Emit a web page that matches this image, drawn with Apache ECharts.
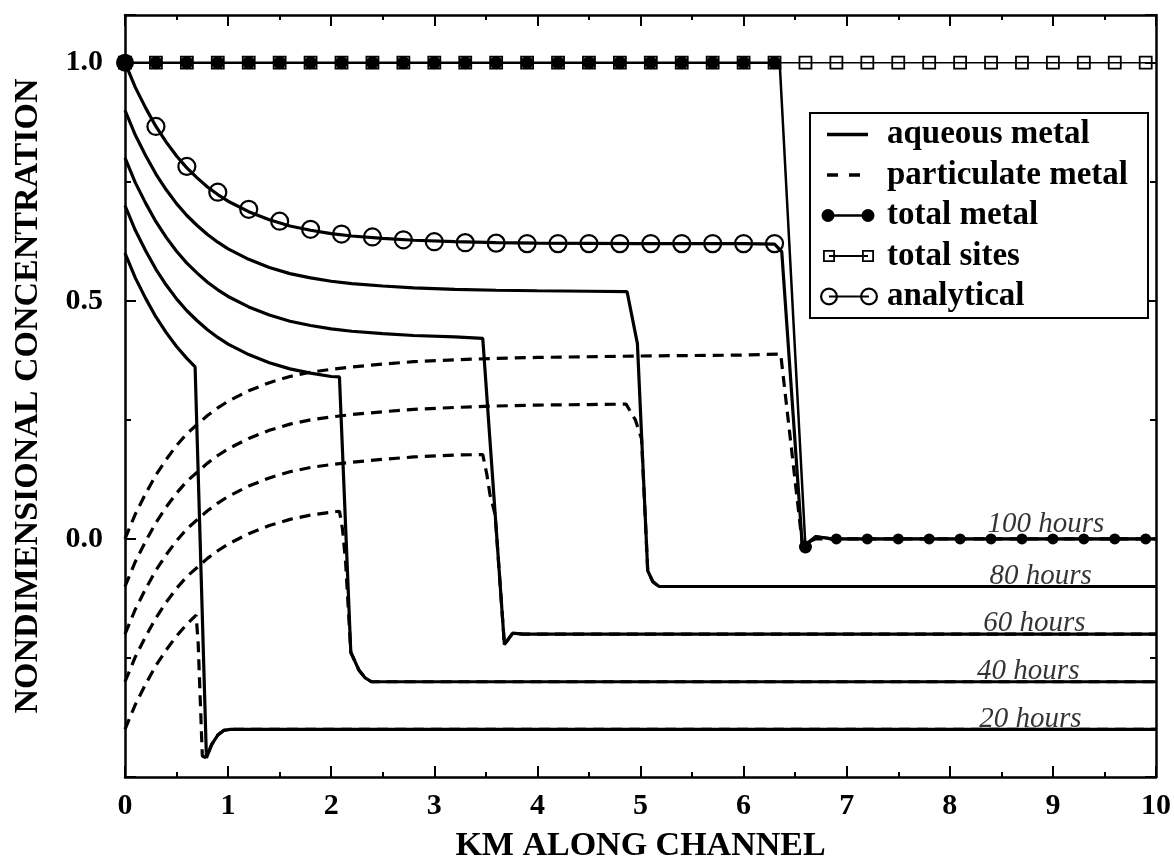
<!DOCTYPE html>
<html>
<head>
<meta charset="utf-8">
<script src="https://cdn.jsdelivr.net/npm/echarts@6/dist/echarts.min.js"></script>
<style>
html,body{margin:0;padding:0;background:#fff;}
#c{width:1174px;height:868px;}
</style>
</head>
<body>
<div id="c"></div>
<script>
// ---------------- data ----------------
const xLabel = 'KM ALONG CHANNEL';
const yLabel = 'NONDIMENSIONAL CONCENTRATION';
const yTickLabels = ['0.0', '0.5', '1.0'];

const aqueous100 = [[0,1.000],[0.1,0.948],[0.2,0.905],[0.3,0.866],[0.4,0.833],[0.5,0.804],[0.6,0.779],[0.7,0.758],[0.8,0.739],[0.9,0.723],[1.0,0.709],[1.2,0.687],[1.4,0.670],[1.6,0.657],[1.8,0.648],[2.0,0.641],[2.2,0.636],[2.5,0.631],[2.8,0.627],[3.2,0.624],[3.6,0.622],[4.0,0.621],[5.0,0.620],[6.0,0.620],[6.3,0.619],[6.37,0.603],[6.57,-0.017],[6.7,0.005],[6.85,0.0],[10,0.0]];
const aqueous80 = [[0,0.900],[0.1,0.848],[0.2,0.805],[0.3,0.766],[0.4,0.733],[0.5,0.704],[0.6,0.679],[0.7,0.658],[0.8,0.639],[0.9,0.623],[1.0,0.609],[1.2,0.587],[1.4,0.570],[1.6,0.557],[1.8,0.548],[2.0,0.541],[2.2,0.536],[2.5,0.531],[2.8,0.527],[3.2,0.524],[3.6,0.522],[4.0,0.521],[4.5,0.520],[4.87,0.519],[4.97,0.410],[5.07,-0.067],[5.12,-0.090],[5.18,-0.100],[5.3,-0.100],[10,-0.100]];
const aqueous60 = [[0,0.800],[0.1,0.748],[0.2,0.705],[0.3,0.666],[0.4,0.633],[0.5,0.604],[0.6,0.579],[0.7,0.558],[0.8,0.539],[0.9,0.523],[1.0,0.509],[1.2,0.487],[1.4,0.470],[1.6,0.457],[1.8,0.448],[2.0,0.441],[2.2,0.436],[2.5,0.431],[2.8,0.427],[3.2,0.424],[3.47,0.421],[3.68,-0.222],[3.76,-0.198],[3.86,-0.200],[10,-0.200]];
const aqueous40 = [[0,0.700],[0.1,0.648],[0.2,0.605],[0.3,0.566],[0.4,0.533],[0.5,0.504],[0.6,0.479],[0.7,0.458],[0.8,0.439],[0.9,0.423],[1.0,0.409],[1.2,0.387],[1.4,0.370],[1.6,0.357],[1.8,0.348],[2.0,0.341],[2.08,0.340],[2.19,-0.238],[2.27,-0.276],[2.33,-0.292],[2.39,-0.300],[10,-0.300]];
const aqueous20 = [[0,0.600],[0.1,0.548],[0.2,0.505],[0.3,0.466],[0.4,0.433],[0.5,0.404],[0.6,0.379],[0.68,0.361],[0.79,-0.460],[0.84,-0.432],[0.9,-0.412],[0.96,-0.402],[1.02,-0.400],[10,-0.400]];

const particulate100 = [[0,0.000],[0.1,0.052],[0.2,0.095],[0.3,0.134],[0.4,0.167],[0.5,0.196],[0.6,0.221],[0.7,0.240],[0.8,0.259],[0.9,0.275],[1.0,0.289],[1.2,0.311],[1.4,0.328],[1.6,0.341],[1.8,0.350],[2.0,0.356],[2.2,0.361],[2.5,0.367],[2.8,0.372],[3.2,0.376],[3.6,0.379],[4.0,0.381],[5.0,0.384],[6.0,0.386],[6.36,0.388],[6.57,-0.012],[6.7,0.0],[10,0.0]];
const particulate80 = [[0,-0.100],[0.1,-0.048],[0.2,-0.005],[0.3,0.034],[0.4,0.067],[0.5,0.096],[0.6,0.121],[0.7,0.140],[0.8,0.159],[0.9,0.175],[1.0,0.189],[1.2,0.211],[1.4,0.228],[1.6,0.241],[1.8,0.250],[2.0,0.256],[2.2,0.261],[2.5,0.267],[2.8,0.272],[3.2,0.276],[3.6,0.279],[4.0,0.281],[4.5,0.282],[4.86,0.283],[4.95,0.250],[5.01,0.210],[5.07,-0.067],[5.12,-0.090],[5.18,-0.100],[10,-0.100]];
const particulate60 = [[0,-0.200],[0.1,-0.148],[0.2,-0.105],[0.3,-0.066],[0.4,-0.033],[0.5,-0.004],[0.6,0.021],[0.7,0.040],[0.8,0.059],[0.9,0.075],[1.0,0.089],[1.2,0.111],[1.4,0.128],[1.6,0.141],[1.8,0.150],[2.0,0.156],[2.2,0.161],[2.5,0.167],[2.8,0.172],[3.2,0.176],[3.47,0.177],[3.51,0.135],[3.54,0.093],[3.59,0.051],[3.68,-0.222],[3.76,-0.198],[3.86,-0.200],[10,-0.200]];
const particulate40 = [[0,-0.300],[0.1,-0.248],[0.2,-0.205],[0.3,-0.166],[0.4,-0.133],[0.5,-0.104],[0.6,-0.079],[0.7,-0.060],[0.8,-0.041],[0.9,-0.025],[1.0,-0.011],[1.2,0.011],[1.4,0.028],[1.6,0.041],[1.8,0.050],[2.0,0.056],[2.08,0.058],[2.11,0.020],[2.14,-0.050],[2.19,-0.238],[2.27,-0.276],[2.33,-0.292],[2.39,-0.300],[10,-0.300]];
const particulate20 = [[0,-0.400],[0.1,-0.348],[0.2,-0.305],[0.3,-0.266],[0.4,-0.233],[0.5,-0.204],[0.6,-0.179],[0.69,-0.160],[0.71,-0.220],[0.75,-0.456],[0.79,-0.460],[0.84,-0.432],[0.9,-0.412],[0.96,-0.402],[1.02,-0.400],[10,-0.400]];

const totalMetal = [[0,1],[0.3,1],[0.6,1],[0.9,1],[1.2,1],[1.5,1],[1.8,1],[2.1,1],[2.4,1],[2.7,1],[3.0,1],[3.3,1],[3.6,1],[3.9,1],[4.2,1],[4.5,1],[4.8,1],[5.1,1],[5.4,1],[5.7,1],[6.0,1],[6.3,1],[6.35,1],[6.6,-0.017],[6.7,0.005],[6.9,0],[7.2,0],[7.5,0],[7.8,0],[8.1,0],[8.4,0],[8.7,0],[9.0,0],[9.3,0],[9.6,0],[9.9,0],[10,0]];
const totalSites = [[0,1],[0.3,1],[0.6,1],[0.9,1],[1.2,1],[1.5,1],[1.8,1],[2.1,1],[2.4,1],[2.7,1],[3.0,1],[3.3,1],[3.6,1],[3.9,1],[4.2,1],[4.5,1],[4.8,1],[5.1,1],[5.4,1],[5.7,1],[6.0,1],[6.3,1],[6.6,1],[6.9,1],[7.2,1],[7.5,1],[7.8,1],[8.1,1],[8.4,1],[8.7,1],[9.0,1],[9.3,1],[9.6,1],[9.9,1],[10,1]];
const analytical = [[0.3,0.866],[0.6,0.782],[0.9,0.728],[1.2,0.692],[1.5,0.667],[1.8,0.650],[2.1,0.640],[2.4,0.634],[2.7,0.628],[3.0,0.624],[3.3,0.622],[3.6,0.621],[3.9,0.620],[4.2,0.620],[4.5,0.620],[4.8,0.620],[5.1,0.620],[5.4,0.620],[5.7,0.620],[6.0,0.620],[6.3,0.620]];

const hourLabels = ['100 hours', '80 hours', '60 hours', '40 hours', '20 hours'];
const hourLabelX = [8.36, 8.38, 8.32, 8.26, 8.28];
const hourLabelY = [0.030, -0.078, -0.178, -0.278, -0.378];

const legendNames = ['aqueous metal', 'particulate metal', 'total metal', 'total sites', 'analytical'];

// ---------------- chart ----------------
const serif = 'Liberation Serif, Times New Roman, serif';
const black = '#000';
const isMarker = x => Math.abs(x / 0.3 - Math.round(x / 0.3)) < 1e-6;

const bbox = 'M0,0L0,0.01M58,18L58,17.99';
const legendIcons = [
  'M7,7.3L48,7.3L48,10.7L7,10.7Z' + bbox,
  'M7,7.3L18,7.3L18,10.7L7,10.7ZM29,7.3L40,7.3L40,10.7L29,10.7Z' + bbox,
  'M1.5,9A6.5,6.5 0 1 1 14.5,9A6.5,6.5 0 1 1 1.5,9ZM41.5,9A6.5,6.5 0 1 1 54.5,9A6.5,6.5 0 1 1 41.5,9ZM8,7.8L48,7.8L48,10.2L8,10.2Z' + bbox,
  'M3,3L15,3L15,15L3,15ZM4.8,4.8L4.8,13.2L13.2,13.2L13.2,4.8ZM42,3L54,3L54,15L42,15ZM43.8,4.8L43.8,13.2L52.2,13.2L52.2,4.8ZM9,8L48,8L48,10L9,10Z' + bbox,
  'M0,9A9,9 0 1 1 18,9A9,9 0 1 1 0,9ZM2.2,9A6.8,6.8 0 1 0 15.8,9A6.8,6.8 0 1 0 2.2,9ZM40,9A9,9 0 1 1 58,9A9,9 0 1 1 40,9ZM42.2,9A6.8,6.8 0 1 0 55.8,9A6.8,6.8 0 1 0 42.2,9ZM9,7.9L49,7.9L49,10.1L9,10.1Z' + bbox
];

function curve(name, data, dashed) {
  return {
    type: 'line', name: name, data: data, showSymbol: false, symbol: 'none',
    lineStyle: { color: black, width: 3.2, type: dashed ? [11, 7] : 'solid' },
    itemStyle: { color: black }, z: 3, silent: true, emphasis: { disabled: true }
  };
}

const tickStyle = { color: black, width: 2 };
const lineStyle = { color: black, width: 2.5 };
function xAx(pos, withLabels) {
  return {
    type: 'value', position: pos, min: 0, max: 10, interval: 1,
    axisLine: { show: true, onZero: false, lineStyle: lineStyle },
    axisTick: { show: true, inside: true, length: 11, lineStyle: tickStyle },
    minorTick: { show: true, splitNumber: 2, length: 5, lineStyle: tickStyle },
    splitLine: { show: false }, minorSplitLine: { show: false },
    axisLabel: withLabels ? { show: true, margin: 14, fontFamily: serif, fontWeight: 'bold', fontSize: 30, color: black } : { show: false },
    name: withLabels ? xLabel : '', nameLocation: 'middle', nameGap: 52,
    nameTextStyle: { fontFamily: serif, fontWeight: 'bold', fontSize: 34, color: black }
  };
}
function yAx(pos, interval, tickLen, showLine, withLabels) {
  return {
    type: 'value', position: pos, min: -0.5, max: 1.1, interval: interval,
    axisLine: { show: showLine, onZero: false, lineStyle: lineStyle },
    axisTick: { show: true, inside: true, length: tickLen, lineStyle: tickStyle },
    splitLine: { show: false },
    axisLabel: withLabels ? {
      show: true, margin: 22, fontFamily: serif, fontWeight: 'bold', fontSize: 30, color: black,
      formatter: function (v) {
        const s = v.toFixed(1);
        return yTickLabels.indexOf(s) >= 0 && Math.abs(v - parseFloat(s)) < 1e-6 ? s : '';
      }
    } : { show: false },
    name: withLabels ? yLabel : '', nameLocation: 'middle', nameGap: 80,
    nameTextStyle: { fontFamily: serif, fontWeight: 'bold', fontSize: 34, color: black }
  };
}

const series = [
  {
    type: 'line', name: 'total sites', z: 2, silent: true, emphasis: { disabled: true },
    data: totalSites.map(p => isMarker(p[0]) ? { value: p } : { value: p, symbol: 'none' }),
    symbol: 'rect', symbolSize: 12, showSymbol: true,
    itemStyle: { color: 'rgba(0,0,0,0)', borderColor: black, borderWidth: 1.8 },
    lineStyle: { color: black, width: 1.5 }
  },
  curve('aqueous metal', aqueous100, false),
  curve('aqueous metal', aqueous80, false),
  curve('aqueous metal', aqueous60, false),
  curve('aqueous metal', aqueous40, false),
  curve('aqueous metal', aqueous20, false),
  curve('particulate metal', particulate100, true),
  curve('particulate metal', particulate80, true),
  curve('particulate metal', particulate60, true),
  curve('particulate metal', particulate40, true),
  curve('particulate metal', particulate20, true),
  {
    type: 'line', name: 'total metal', z: 4, silent: true, emphasis: { disabled: true },
    data: totalMetal.map((p, i) => {
      if (!isMarker(p[0])) return { value: p, symbol: 'none' };
      if (i === 0) return { value: p, symbolSize: 18 };
      if (p[1] < 0) return { value: p, symbolSize: 13 };
      if (p[1] > 0.5) return { value: p, symbolSize: 13 };
      return { value: p };
    }),
    symbol: 'circle', symbolSize: 11, showSymbol: true,
    itemStyle: { color: black },
    lineStyle: { color: black, width: 2.5 }
  },
  {
    type: 'line', name: 'analytical', z: 5, silent: true, emphasis: { disabled: true },
    data: analytical, symbol: 'circle', symbolSize: 17, showSymbol: true,
    itemStyle: { color: 'rgba(0,0,0,0)', borderColor: black, borderWidth: 2.2 },
    lineStyle: { color: black, width: 0, opacity: 0 }
  },
  {
    type: 'scatter', name: 'hours', z: 6, silent: true,
    data: hourLabels.map((t, i) => ({ name: t, value: [hourLabelX[i], hourLabelY[i]] })),
    symbolSize: 1, itemStyle: { color: 'rgba(0,0,0,0)' },
    label: { show: true, position: 'right', distance: 0, formatter: '{b}', fontFamily: serif, fontStyle: 'italic', fontSize: 29, color: black }
  }
];

const chart = echarts.init(document.getElementById('c'), null, { renderer: 'canvas' });
chart.setOption({
  animation: false,
  backgroundColor: '#fff',
  grid: { left: 125, right: 17, top: 15, bottom: 88, containLabel: false },
  xAxis: [xAx('bottom', true), xAx('top', false)],
  yAxis: [yAx('left', 0.5, 11, true, true), yAx('left', 0.25, 6, false, false), yAx('right', 0.5, 11, true, false), yAx('right', 0.25, 6, false, false)],
  legend: {
    orient: 'vertical', left: 810, top: 113, padding: [5, 20, 5, 10],
    itemGap: 7.5, itemWidth: 58, itemHeight: 18, selectedMode: false,
    backgroundColor: '#fff', borderColor: black, borderWidth: 2, borderRadius: 0,
    itemStyle: { color: black, borderColor: black, borderWidth: 0 },
    textStyle: { fontFamily: serif, fontWeight: 'bold', fontSize: 33, lineHeight: 32, color: black, padding: [0, 0, 0, 4] },
    data: legendNames.map((n, i) => ({ name: n, icon: 'path://' + legendIcons[i] }))
  },
  series: series
});
</script>
</body>
</html>
